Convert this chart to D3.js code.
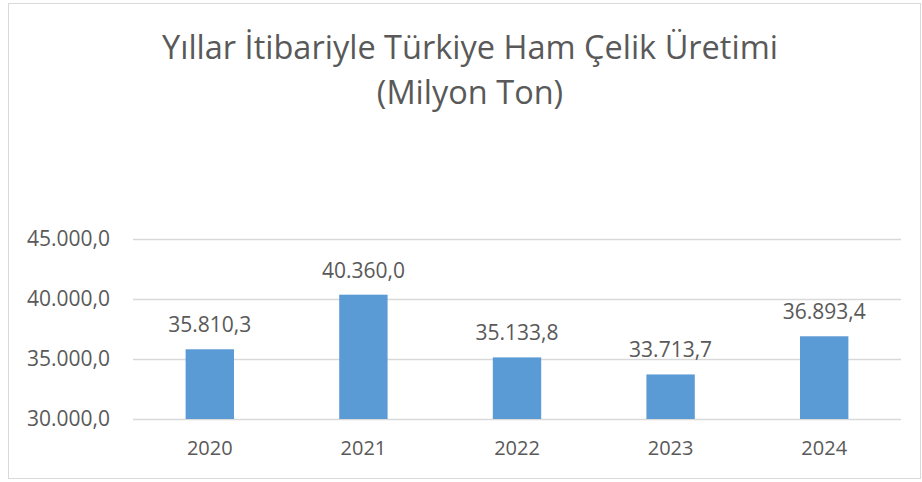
<!DOCTYPE html>
<html>
<head>
<meta charset="utf-8">
<script src="https://cdn.jsdelivr.net/npm/d3@7"></script>
<style>
  body { margin: 0; background: #fff; }
  text { font-family: "Open Sans", sans-serif; fill: #595959; }
</style>
</head>
<body>
<div class="chart"></div>
<script>
// data
const years = ["2020", "2021", "2022", "2023", "2024"];
const production = [35810.3, 40360.0, 35133.8, 33713.7, 36893.4];
const yTicks = [30000, 35000, 40000, 45000];
const titleLines = ["Yıllar İtibariyle Türkiye Ham Çelik Üretimi", "(Milyon Ton)"];

let chart = {};

chart.width = 922;
chart.height = 482;
chart.margin = { top: 239, right: 21, bottom: 63, left: 133 };

// turkish number format: 35.810,3
const trFormat = d3.formatLocale({ decimal: ",", thousands: ".", grouping: [3], currency: ["", ""] }).format(",.1f");

chart.svg = d3.select(".chart").append("svg")
    .attr("width", chart.width)
    .attr("height", chart.height);

// outer frame
chart.svg.append("rect")
    .attr("x", 8.5).attr("y", 3.5)
    .attr("width", 912).attr("height", 475)
    .attr("fill", "#fff")
    .attr("stroke", "#d9d9d9");

let plotW = chart.width - chart.margin.left - chart.margin.right;
let plotH = chart.height - chart.margin.top - chart.margin.bottom;

chart.xScale = d3.scaleBand()
    .domain(years)
    .range([0, plotW])
    .paddingInner(0.685)
    .paddingOuter(0.3425);

chart.yScale = d3.scaleLinear()
    .domain([30000, 45000])
    .range([plotH, 0]);

chart.plot = chart.svg.append("g")
    .attr("transform", `translate(${chart.margin.left},${chart.margin.top})`);

// gridlines + y labels
chart.yAxis = chart.plot.append("g")
    .call(d3.axisLeft(chart.yScale)
        .tickValues(yTicks)
        .tickFormat(trFormat)
        .tickSize(-plotW)
        .tickPadding(23));
chart.yAxis.select(".domain").remove();
chart.yAxis.selectAll(".tick line").attr("stroke", "#d9d9d9").attr("stroke-width", 1.3);
chart.yAxis.selectAll(".tick text")
    .attr("font-size", 21)
    .attr("font-family", "Open Sans")
    .attr("fill", "#595959");

// bars
chart.plot.selectAll(".bar")
    .data(production)
    .join("rect")
    .attr("class", "bar")
    .attr("x", (d, i) => chart.xScale(years[i]))
    .attr("y", d => chart.yScale(d))
    .attr("width", chart.xScale.bandwidth())
    .attr("height", d => plotH - chart.yScale(d))
    .attr("fill", "#5b9bd5");

// value labels
chart.plot.selectAll(".val")
    .data(production)
    .join("text")
    .attr("class", "val")
    .attr("x", (d, i) => chart.xScale(years[i]) + chart.xScale.bandwidth() / 2)
    .attr("y", d => chart.yScale(d) - 17)
    .attr("text-anchor", "middle")
    .attr("font-size", 21)
    .text(d => trFormat(d));

// x axis labels
chart.xAxis = chart.plot.append("g")
    .attr("transform", `translate(0,${plotH})`)
    .call(d3.axisBottom(chart.xScale).tickSize(0).tickPadding(22));
chart.xAxis.select(".domain").remove();
chart.xAxis.selectAll(".tick text")
    .attr("font-size", 20)
    .attr("font-family", "Open Sans")
    .attr("fill", "#595959");

// title
chart.svg.append("text")
    .attr("text-anchor", "middle")
    .attr("font-size", 32.5)
    .selectAll("tspan")
    .data(titleLines)
    .join("tspan")
    .attr("x", 470)
    .attr("y", (d, i) => 59 + i * 45)
    .text(d => d);
</script>
</body>
</html>
